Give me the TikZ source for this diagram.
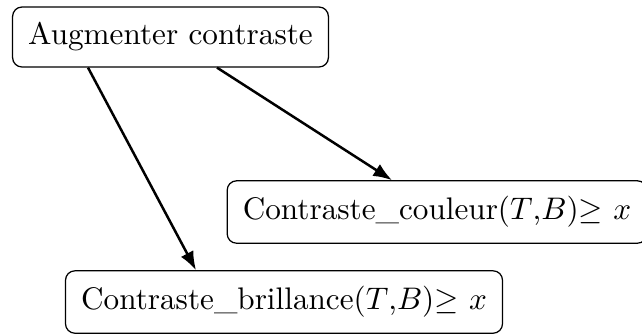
\documentclass[tikz,border=0pt]{standalone}
\usetikzlibrary{arrows.meta}
\begin{document}
\begin{tikzpicture}[x=0.3205pt,y=-0.3205pt,
  box/.style={draw,rounded corners=3pt,inner sep=5pt,line width=0.4pt},
  arr/.style={-{Latex[length=6pt,width=4.5pt]},line width=0.8pt}]
\useasboundingbox (0,0) rectangle (642,333);
\node[box] (top) at (170.5,37) {Augmenter contraste};
\node[box] (coul) at (437,212) {Contraste\_couleur$(T$,$B)$$\geq$ $x$};
\node[box] (bril) at (284,302) {Contraste\_brillance$(T$,$B)$$\geq$ $x$};
\coordinate (s1) at (88,0);
\coordinate (s2) at (217,0);
\coordinate (e1) at (196,0);
\coordinate (e2) at (392,0);
\draw[arr] (top.south -| s1) -- (bril.north -| e1);
\draw[arr] (top.south -| s2) -- (coul.north -| e2);
\end{tikzpicture}
\end{document}
